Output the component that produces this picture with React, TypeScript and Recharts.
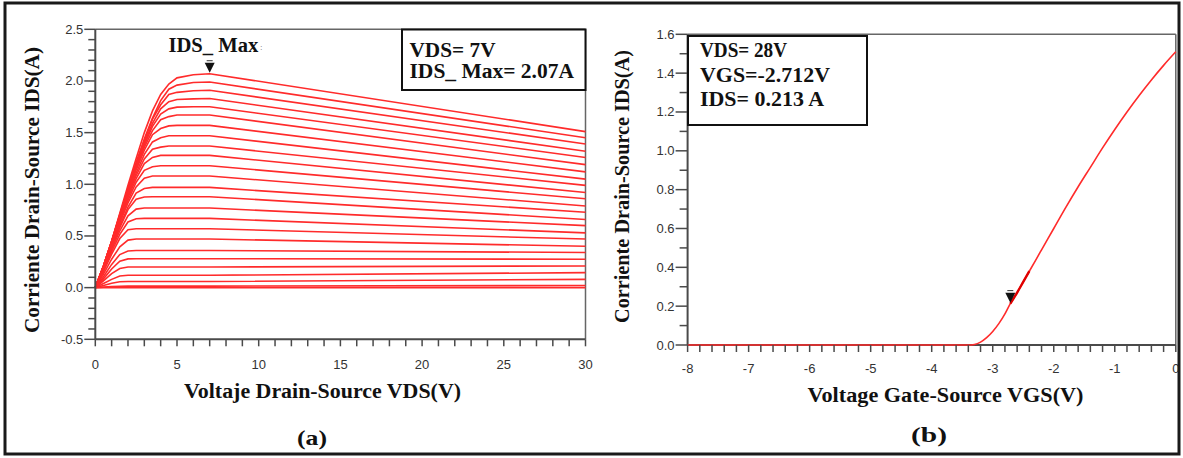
import { LineChart, Line, XAxis, YAxis, ReferenceLine, ReferenceDot } from 'recharts'

// (a) output family: IDS (A) sampled at these VDS (V)
const vds = [0, 0.5, 1, 1.5, 2, 2.5, 3, 3.5, 4, 4.5, 5, 6, 7, 30]
const idsFamily: number[][] = [
  [0, 0.21, 0.45, 0.72, 0.99, 1.25, 1.5, 1.71, 1.87, 1.97, 2.03, 2.06, 2.07, 1.51],
  [0, 0.21, 0.45, 0.71, 0.96, 1.21, 1.44, 1.64, 1.81, 1.92, 1.96, 1.985, 1.99, 1.45],
  [0, 0.21, 0.45, 0.7, 0.955, 1.2, 1.42, 1.63, 1.77, 1.87, 1.89, 1.905, 1.91, 1.39],
  [0, 0.21, 0.45, 0.7, 0.95, 1.19, 1.4, 1.59, 1.73, 1.8, 1.82, 1.827, 1.83, 1.32],
  [0, 0.21, 0.445, 0.69, 0.94, 1.175, 1.38, 1.56, 1.68, 1.73, 1.747, 1.75, 1.75, 1.26],
  [0, 0.21, 0.44, 0.69, 0.93, 1.16, 1.36, 1.52, 1.625, 1.655, 1.67, 1.67, 1.67, 1.19],
  [0, 0.205, 0.44, 0.68, 0.92, 1.14, 1.33, 1.48, 1.54, 1.565, 1.57, 1.57, 1.57, 1.12],
  [0, 0.205, 0.435, 0.67, 0.905, 1.11, 1.29, 1.41, 1.45, 1.47, 1.47, 1.47, 1.47, 1.05],
  [0, 0.2, 0.43, 0.66, 0.89, 1.085, 1.245, 1.34, 1.36, 1.37, 1.37, 1.37, 1.37, 0.99],
  [0, 0.2, 0.42, 0.65, 0.87, 1.055, 1.2, 1.26, 1.28, 1.28, 1.28, 1.28, 1.28, 0.92],
  [0, 0.195, 0.415, 0.64, 0.845, 1.02, 1.135, 1.17, 1.18, 1.18, 1.18, 1.18, 1.18, 0.86],
  [0, 0.19, 0.405, 0.625, 0.82, 0.975, 1.06, 1.08, 1.08, 1.08, 1.08, 1.08, 1.08, 0.79],
  [0, 0.185, 0.395, 0.6, 0.78, 0.915, 0.96, 0.97, 0.97, 0.97, 0.97, 0.97, 0.97, 0.73],
  [0, 0.18, 0.385, 0.58, 0.755, 0.855, 0.877, 0.88, 0.88, 0.88, 0.88, 0.88, 0.88, 0.66],
  [0, 0.17, 0.37, 0.55, 0.695, 0.76, 0.77, 0.77, 0.77, 0.77, 0.77, 0.77, 0.77, 0.6],
  [0, 0.165, 0.35, 0.515, 0.635, 0.667, 0.67, 0.67, 0.67, 0.67, 0.67, 0.67, 0.67, 0.53],
  [0, 0.155, 0.325, 0.475, 0.56, 0.57, 0.57, 0.57, 0.57, 0.57, 0.57, 0.57, 0.57, 0.47],
  [0, 0.13, 0.275, 0.395, 0.46, 0.47, 0.47, 0.47, 0.47, 0.47, 0.47, 0.47, 0.47, 0.4],
  [0, 0.105, 0.225, 0.32, 0.355, 0.36, 0.36, 0.36, 0.36, 0.36, 0.36, 0.36, 0.36, 0.34],
  [0, 0.085, 0.18, 0.255, 0.278, 0.28, 0.28, 0.28, 0.28, 0.28, 0.28, 0.28, 0.28, 0.275],
  [0, 0.065, 0.135, 0.185, 0.2, 0.2, 0.2, 0.2, 0.2, 0.2, 0.2, 0.2, 0.2, 0.21],
  [0, 0.04, 0.08, 0.113, 0.12, 0.12, 0.12, 0.12, 0.12, 0.12, 0.12, 0.12, 0.12, 0.145],
  [0, 0.02, 0.042, 0.057, 0.06, 0.06, 0.06, 0.06, 0.06, 0.06, 0.06, 0.06, 0.06, 0.08],
  [0, 0.005, 0.01, 0.014, 0.015, 0.015, 0.015, 0.015, 0.015, 0.015, 0.015, 0.015, 0.015, 0.02],
  [0, 0, 0, 0, 0, 0, 0, 0, 0, 0, 0, 0, 0, 0],
]
const vdsTicks = [0, 1, 2, 3, 4, 5, 6, 7, 8, 9, 10, 11, 12, 13, 14, 15, 16, 17, 18, 19, 20, 21, 22, 23, 24, 25, 26, 27, 28, 29, 30]
const idsTicksA = [-0.5, -0.4, -0.3, -0.2, -0.1, 0, 0.1, 0.2, 0.3, 0.4, 0.5, 0.6, 0.7, 0.8, 0.9, 1, 1.1, 1.2, 1.3, 1.4, 1.5, 1.6, 1.7, 1.8, 1.9, 2, 2.1, 2.2, 2.3, 2.4, 2.5]

// (b) transfer curve at VDS = 28 V
const vgs = [-8, -7, -6, -5, -4, -3.4, -3.3, -3.2, -3.1, -3, -2.9, -2.8, -2.712, -2.6, -2.5, -2.4, -2.3, -2.2, -2.1, -2, -1.8, -1.6, -1.4, -1.2, -1, -0.8, -0.6, -0.4, -0.2, 0]
const idsTransfer = [0, 0, 0, 0, 0, 0, 0.003, 0.015, 0.038, 0.07, 0.11, 0.16, 0.213, 0.27, 0.325, 0.38, 0.435, 0.49, 0.545, 0.6, 0.71, 0.815, 0.915, 1.015, 1.11, 1.2, 1.285, 1.365, 1.44, 1.51]
const vgsMark = [-2.712, -2.6, -2.5, -2.4]
const idsMark = [0.213, 0.27, 0.325, 0.38]
const vgsTicks = [-8, -7.8, -7.6, -7.4, -7.2, -7, -6.8, -6.6, -6.4, -6.2, -6, -5.8, -5.6, -5.4, -5.2, -5, -4.8, -4.6, -4.4, -4.2, -4, -3.8, -3.6, -3.4, -3.2, -3, -2.8, -2.6, -2.4, -2.2, -2, -1.8, -1.6, -1.4, -1.2, -1, -0.8, -0.6, -0.4, -0.2, 0]
const idsTicksB = [0, 0.1, 0.2, 0.3, 0.4, 0.5, 0.6, 0.7, 0.8, 0.9, 1, 1.1, 1.2, 1.3, 1.4, 1.5, 1.6]

const familyRows = vds.map((v, j) => {
  const row: Record<string, number> = { vds: v }
  idsFamily.forEach((c, i) => { row['c' + i] = c[j] })
  return row
})
const transferRows = vgs.map((v, i) => ({ vgs: v, ids: idsTransfer[i] }))
const markRows = vgsMark.map((v, i) => ({ vgs: v, ids: idsMark[i] }))

const axisColor = '#4a4a4a'
const tickFont = "Arial, 'Liberation Sans', sans-serif"
const serif = "'Times New Roman', 'Liberation Serif', serif"

const isMult = (v: number, step: number) => Math.abs(v / step - Math.round(v / step)) < 1e-6

// y-axis tick: x is the axis line (tickSize 0, tickMargin 0)
const YTick = (p: any) => {
  const { x, y, payload, step, majorLen, minorLen } = p
  const v = payload.value
  const major = isMult(v, step)
  const len = major ? majorLen : minorLen
  return (
    <g>
      <line x1={x} x2={x - len} y1={y} y2={y} stroke={axisColor} strokeWidth={1.5} />
      {major && (
        <text x={x - len - 1} y={y} dy={4.5} textAnchor="end" fontSize={13} fontFamily={tickFont} fill="#333">
          {v.toFixed(1)}
        </text>
      )}
    </g>
  )
}

const XTick = (p: any) => {
  const { x, y, payload, step, labelDy } = p
  const v = payload.value
  const major = isMult(v, step)
  return (
    <g>
      <line x1={x} x2={x} y1={y} y2={y + 7} stroke={axisColor} strokeWidth={1.5} />
      {major && (
        <text x={x} y={y + labelDy} textAnchor="middle" fontSize={13} fontFamily={tickFont} fill="#333">
          {String(Math.round(v))}
        </text>
      )}
    </g>
  )
}

const Tri = (p: any) => (
  <g>
    <line x1={p.cx - 3} x2={p.cx + 3} y1={p.cy - 13} y2={p.cy - 13} stroke="#333" strokeWidth={1} />
    <polygon points={`${p.cx - 5},${p.cy - 11} ${p.cx + 5},${p.cy - 11} ${p.cx},${p.cy - 1}`} fill="#111" />
  </g>
)

export default function App() {
  return (
    <div style={{ position: 'absolute', left: 0, top: 0, width: 1183, height: 458, background: '#fff' }}>
      <div style={{ position: 'absolute', left: 0, top: 0 }}>
        <LineChart width={600} height={458} data={familyRows} margin={{ top: 29.3, left: 35.3, right: 14.5, bottom: 78.7 }}>
          <XAxis
            dataKey="vds" type="number" domain={[0, 30]} ticks={vdsTicks} interval={0} height={40}
            axisLine={{ stroke: axisColor, strokeWidth: 2 }} tickLine={false} tickSize={0} tickMargin={0}
            tick={(p: any) => <XTick {...p} step={5} labelDy={29.5} />}
          />
          <YAxis
            type="number" domain={[-0.5, 2.5]} ticks={idsTicksA} interval={0} width={60}
            axisLine={{ stroke: axisColor, strokeWidth: 2 }} tickLine={false} tickSize={0} tickMargin={0}
            tick={(p: any) => <YTick {...p} step={0.5} majorLen={11} minorLen={7} />}
          />
          <ReferenceLine y={2.5} stroke="#666" strokeWidth={1.5} />
          <ReferenceLine x={30} stroke="#666" strokeWidth={1.5} />
          {idsFamily.map((_, i) => (
            <Line key={i} dataKey={'c' + i} type="linear" stroke="#ff2b2b" strokeWidth={1.6} dot={false} activeDot={false} isAnimationActive={false} />
          ))}
          <ReferenceDot x={7} y={2.07} r={0} shape={Tri} />
        </LineChart>
      </div>

      <div style={{ position: 'absolute', left: 600, top: 0 }}>
        <LineChart width={583} height={458} data={transferRows} margin={{ top: 34.3, left: 27.6, right: 7.2, bottom: 73 }}>
          <XAxis
            dataKey="vgs" type="number" domain={[-8, 0]} ticks={vgsTicks} interval={0} height={40}
            axisLine={{ stroke: axisColor, strokeWidth: 2 }} tickLine={false} tickSize={0} tickMargin={0}
            tick={(p: any) => <XTick {...p} step={1} labelDy={27.5} />}
          />
          <YAxis
            type="number" domain={[0, 1.6]} ticks={idsTicksB} interval={0} width={60}
            axisLine={{ stroke: axisColor, strokeWidth: 2 }} tickLine={false} tickSize={0} tickMargin={0}
            tick={(p: any) => <YTick {...p} step={0.2} majorLen={12} minorLen={8} />}
          />
          <ReferenceLine y={1.6} stroke="#666" strokeWidth={1.5} />
          <ReferenceLine x={0} stroke="#666" strokeWidth={1.5} />
          <Line dataKey="ids" type="monotone" stroke="#ff2b2b" strokeWidth={1.6} dot={false} activeDot={false} isAnimationActive={false} zIndex={700} />
          <Line data={markRows} dataKey="ids" type="monotone" stroke="#e00000" strokeWidth={2.4} dot={false} activeDot={false} isAnimationActive={false} zIndex={700} />
          <ReferenceDot x={-2.712} y={0.213} r={0} shape={Tri} zIndex={800} />
        </LineChart>
      </div>

      <svg width={1183} height={458} style={{ position: 'absolute', left: 0, top: 0, pointerEvents: 'none' }}>
        <rect x={5} y={3} width={1174} height={451} fill="none" stroke="#1a1a1a" strokeWidth={3} />

        <g fontFamily={serif} fontWeight="bold" fill="#111">
          <text x={322.5} y={398} textAnchor="middle" fontSize={20} textLength={277} lengthAdjust="spacingAndGlyphs">Voltaje Drain-Source VDS(V)</text>
          <text x={945.5} y={402} textAnchor="middle" fontSize={20} textLength={276} lengthAdjust="spacingAndGlyphs">Voltage Gate-Source VGS(V)</text>
          <text transform="translate(39,190) rotate(-90)" textAnchor="middle" fontSize={20} textLength={286} lengthAdjust="spacingAndGlyphs">Corriente Drain-Source IDS(A)</text>
          <text transform="translate(629,186.5) rotate(-90)" textAnchor="middle" fontSize={20} textLength={273} lengthAdjust="spacingAndGlyphs">Corriente Drain-Source IDS(A)</text>
          <text x={312} y={445} textAnchor="middle" fontSize={21} textLength={30} lengthAdjust="spacingAndGlyphs">(a)</text>
          <text x={929} y={442} textAnchor="middle" fontSize={21} textLength={36} lengthAdjust="spacingAndGlyphs">(b)</text>

          <text x={168.4} y={51.7} fontSize={20} textLength={90} lengthAdjust="spacingAndGlyphs">IDS_ Max</text>
          <text x={260} y={50} fontSize={9} fontWeight="normal" fill="#777">:</text>

          <rect x={402} y={29.5} width={183.5} height={60.5} fill="#fff" stroke="#111" strokeWidth={2} />
          <text x={409.5} y={57.3} fontSize={20} textLength={86} lengthAdjust="spacingAndGlyphs">VDS= 7V</text>
          <text x={409.5} y={78.3} fontSize={20} textLength={164.5} lengthAdjust="spacingAndGlyphs">IDS_ Max= 2.07A</text>

          <rect x={688} y={36} width={179} height={89} fill="#fff" stroke="#111" strokeWidth={2} />
          <text x={700} y={57} fontSize={20} textLength={87} lengthAdjust="spacingAndGlyphs">VDS= 28V</text>
          <text x={700} y={82} fontSize={20} textLength={130} lengthAdjust="spacingAndGlyphs">VGS=-2.712V</text>
          <text x={700} y={106} fontSize={20} textLength={124} lengthAdjust="spacingAndGlyphs">IDS= 0.213 A</text>
        </g>
      </svg>
    </div>
  )
}
